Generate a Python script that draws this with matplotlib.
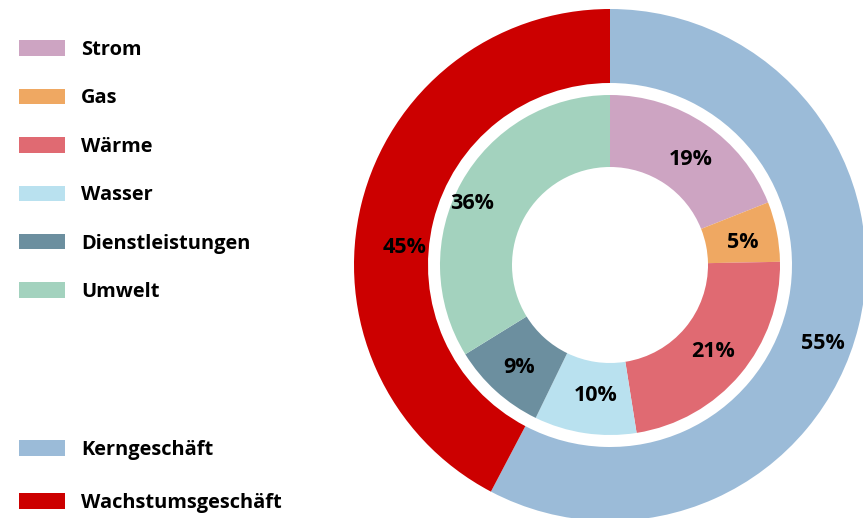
import matplotlib
matplotlib.use("Agg")
import matplotlib.pyplot as plt
from matplotlib.patches import Patch

# inner ring: segments (drawn shares as measured on the picture, printed labels)
inner_labels = ["Strom", "Gas", "Wärme", "Wasser", "Dienstleistungen", "Umwelt"]
inner_shares = [19.0, 5.7, 22.8, 9.7, 9.0, 33.8]
inner_pct = ["19%", "5%", "21%", "10%", "9%", "36%"]
inner_colors = ["#cda4c2", "#efa862", "#e06a72", "#b9e1ef", "#6c8f9f", "#a3d2be"]

# outer ring: business areas
outer_labels = ["Kerngeschäft", "Wachstumsgeschäft"]
outer_shares = [57.7, 42.3]
outer_pct = ["55%", "45%"]
outer_colors = ["#9bbbd8", "#cc0000"]

# small pixel nudges for the percentage labels (x, y)
inner_nudge = [(5, -6), (1, -4), (0, 0), (5, 2), (-1, -3), (-21, -4)]
outer_nudge = [(2, -26), (6, -35)]

plt.rcParams['font.family'] = ['Open Sans', 'DejaVu Sans']

W, H = 863, 518
fig = plt.figure(figsize=(W / 100, H / 100), dpi=100)
ax = fig.add_axes([0, 0, 1, 1])

cx, cy = 610, H - 265
r_out, r_in = 256, 170

txt = dict(fontsize=15.5, fontweight='bold', color='black')


def relabel(texts, labels, nudges):
    for t, s, (dx, dy) in zip(texts, labels, nudges):
        x, y = t.get_position()
        t.set_position((x + dx, y + dy))
        t.set_text(s)


_, _, at_out = ax.pie(outer_shares, colors=outer_colors, radius=r_out, center=(cx, cy),
                      startangle=90, counterclock=False,
                      wedgeprops=dict(width=r_out - 182, linewidth=0),
                      autopct='%.0f', pctdistance=0.85, textprops=txt)
relabel(at_out, outer_pct, outer_nudge)

_, _, at_in = ax.pie(inner_shares, colors=inner_colors, radius=r_in, center=(cx, cy),
                     startangle=90, counterclock=False,
                     wedgeprops=dict(width=r_in - 98, linewidth=0),
                     autopct='%.0f', pctdistance=0.79, textprops=txt)
relabel(at_in, inner_pct, inner_nudge)

ax.set_xlim(0, W)
ax.set_ylim(0, H)
ax.set_aspect('equal')
ax.axis('off')

leg_kw = dict(frameon=False, prop=dict(size=14.4, weight='bold'),
              handlelength=2.3, handleheight=0.8, handletextpad=0.8,
              borderpad=0, borderaxespad=0, loc='upper left')

h1 = [Patch(facecolor=c, edgecolor='none') for c in inner_colors]
fig.legend(h1, inner_labels, bbox_to_anchor=(19 / W, 1 - 40 / H),
           labelspacing=1.42, **leg_kw)

h2 = [Patch(facecolor=c, edgecolor='none') for c in outer_colors]
fig.legend(h2, outer_labels, bbox_to_anchor=(19 / W, 1 - 440 / H),
           labelspacing=1.65, **leg_kw)

fig.savefig("out.png", dpi=100)
